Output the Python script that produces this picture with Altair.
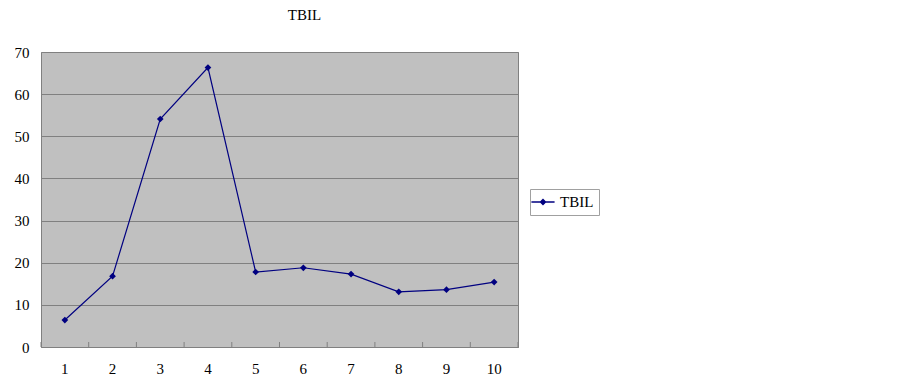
import altair as alt
import pandas as pd

days = [1, 2, 3, 4, 5, 6, 7, 8, 9, 10]
tbil = [6.4, 16.8, 54.1, 66.3, 17.8, 18.8, 17.3, 13.1, 13.6, 15.4]
series = "TBIL"

df = pd.DataFrame({"day": days, "value": tbil, "series": [series] * len(days)})

FONT = "Liberation Serif"
W, H = 477, 295

xenc = alt.X("day:O", bandPosition=0.5,
             scale=alt.Scale(type="band", paddingInner=0, paddingOuter=0),
             axis=alt.Axis(title=None, labelAngle=0, ticks=False, domain=True,
                           domainColor="#808080", labelPadding=14, grid=False,
                           labelFont=FONT, labelFontSize=15, labelColor="#000000"))
yenc = alt.Y("value:Q", scale=alt.Scale(domain=[0, 70]),
             axis=alt.Axis(title=None, values=[0, 10, 20, 30, 40, 50, 60, 70],
                           ticks=False, domain=False, grid=True, gridColor="#808080",
                           gridWidth=1, labelPadding=12, labelFont=FONT,
                           labelFontSize=15, labelColor="#000000"))
color = alt.Color("series:N", scale=alt.Scale(range=["#000080"]),
                  legend=alt.Legend(title=None, orient="none", legendX=489, legendY=137,
                                    strokeColor="#a0a0a0", padding=5,
                                    symbolType="M-1.6,0H1.6M-0.35,0L0,-0.35L0.35,0L0,0.35Z",
                                    symbolSize=210, symbolStrokeWidth=1.3,
                                    symbolFillColor="#000080", symbolStrokeColor="#000080",
                                    labelFont=FONT, labelFontSize=15, labelColor="#000000",
                                    labelOffset=9))

line = alt.Chart(df).mark_line(strokeWidth=1.2).encode(x=xenc, y=yenc, color=color)
pts = alt.Chart(df).mark_point(shape="diamond", filled=True, size=45, opacity=1).encode(
    x=xenc, y=yenc, color=color)
ticks = alt.Chart(df).mark_rule(color="#808080", strokeWidth=1).encode(
    x=alt.X("day:O", bandPosition=0), y=alt.value(H - 5), y2=alt.value(H))
ticks_end = alt.Chart(df.tail(1)).mark_rule(color="#808080", strokeWidth=1).encode(
    x=alt.X("day:O", bandPosition=1), y=alt.value(H - 5), y2=alt.value(H))

chart = alt.layer(line, pts, ticks, ticks_end).properties(
    width=W, height=H,
    title=alt.TitleParams("TBIL", font=FONT, fontSize=15, fontWeight="normal",
                          color="#000000", anchor="middle", dx=25, offset=22),
    autosize=alt.AutoSizeParams(type="none"),
    padding={"left": 33, "top": 44, "right": 377, "bottom": 28},
).configure_view(fill="#C0C0C0", stroke="#808080", strokeWidth=1)

chart.save("out.html", embed_options={"renderer": "svg", "actions": False})
